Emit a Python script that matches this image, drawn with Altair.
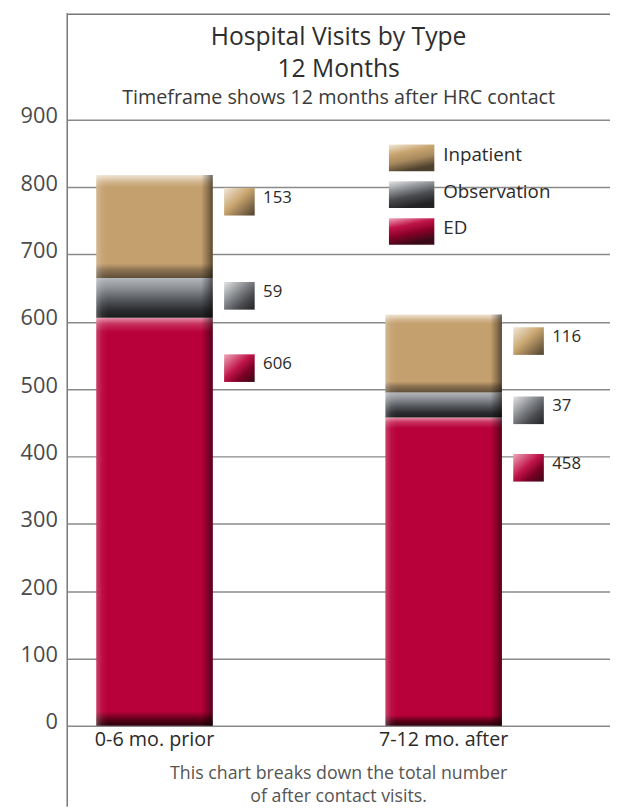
import altair as alt
import pandas as pd

# ---------------- data ----------------
periods = ["0-6 mo. prior", "7-12 mo. after"]
types = ["ED", "Observation", "Inpatient"]
ed = [606, 458]
observation = [59, 37]
inpatient = [153, 116]
y_ticks = [0, 100, 200, 300, 400, 500, 600, 700, 800, 900]
title_lines = ["Hospital Visits by Type", "12 Months"]
subtitle = "Timeframe shows 12 months after HRC contact"
caption = ["This chart breaks down the total number", "of after contact visits."]
legend_order = ["Inpatient", "Observation", "ED"]

rows = []
for i, p in enumerate(periods):
    for o, (t, vals) in enumerate(zip(types, [ed, observation, inpatient])):
        rows.append({"period": p, "type": t, "value": vals[i], "order": o})
df = pd.DataFrame(rows)

FONT = "Open Sans"
W, H = 550, 804

# ---------------- styles ----------------
def grad(stops, x2=0, y2=1):
    return alt.Gradient(gradient="linear", x1=0, y1=0, x2=x2, y2=y2,
                        stops=[alt.GradientStop(offset=o, color=c) for o, c in stops])

bar_grad = {
    "Inpatient": grad([(0, "#efe4d4"), (0.07, "#d2b48c"), (0.12, "#c4a06e"),
                       (0.86, "#c4a06e"), (0.92, "#8c7252"), (1, "#5e4d38")]),
    "Observation": grad([(0, "#b4b7bb"), (0.25, "#8d9095"), (0.55, "#55585c"),
                         (0.8, "#2c2d30"), (1, "#1c1c1e")]),
    "ED": grad([(0, "#e690aa"), (0.015, "#c8325f"), (0.035, "#b8003a"),
                (0.965, "#b8003a"), (0.985, "#5a0018"), (1, "#2a000a")]),
}
sq_grad = {
    "Inpatient": grad([(0, "#f2e8da"), (0.45, "#c9a670"), (0.6, "#a88a5e"), (1, "#4e402e")], 1, 1),
    "Observation": grad([(0, "#e4e5e6"), (0.45, "#7c7f83"), (0.7, "#4a4b4e"), (1, "#222224")], 1, 1),
    "ED": grad([(0, "#f0a8bc"), (0.45, "#c0144a"), (0.7, "#7a0024"), (1, "#3a0a18")], 1, 1),
}
leg_grad = {
    "Inpatient": grad([(0, "#f2e8da"), (0.35, "#c9a670"), (0.65, "#a88a5e"), (1, "#4e402e")], 0.35, 1),
    "Observation": grad([(0, "#e4e5e6"), (0.35, "#8c8f93"), (0.65, "#4a4b4e"), (1, "#222224")], 0.35, 1),
    "ED": grad([(0, "#f0a8bc"), (0.35, "#c0144a"), (0.65, "#8a0028"), (1, "#3a0a18")], 0.35, 1),
}
bevel = alt.Gradient(gradient="linear", x1=0, y1=0, x2=1, y2=0, stops=[
    alt.GradientStop(offset=0, color="rgba(255,255,255,0.25)"),
    alt.GradientStop(offset=0.05, color="rgba(255,255,255,0.06)"),
    alt.GradientStop(offset=0.1, color="rgba(255,255,255,0)"),
    alt.GradientStop(offset=0.9, color="rgba(0,0,0,0)"),
    alt.GradientStop(offset=0.96, color="rgba(0,0,0,0.3)"),
    alt.GradientStop(offset=1, color="rgba(0,0,0,0.55)"),
])

sq_offset = {"Inpatient": 27, "Observation": 18, "ED": 51}
SQ_PATH = "M-1,-0.9032L1,-0.9032L1,0.9032L-1,0.9032Z"
LEG_PATH = "M-1,-0.587L1,-0.587L1,0.587L-1,0.587Z"

# ---------------- scales / encodings ----------------
x_enc = alt.X("period:N", sort=periods, title=None,
              scale=alt.Scale(paddingInner=0.5973, paddingOuter=0.2372, align=0.212),
              axis=alt.Axis(orient="bottom", offset=-82, domain=False, ticks=False,
                            labelFontSize=20, labelFont=FONT, labelColor="#2a2a2a",
                            labelPadding=4, labelAngle=0))
y_scale = alt.Scale(domain=[-120.2, 1058.3], nice=False, zero=False)
y_axis = alt.Axis(values=y_ticks, grid=True, gridColor="#8a8a8a", gridWidth=1.5,
                  domain=False, ticks=False, labelFontSize=22, labelFont=FONT,
                  labelColor="#4a4a4a", labelPadding=10, labelOffset=-4)

base = alt.Chart(df).transform_stack(
    stack="value", groupby=["period"], as_=["y0", "y1"],
    sort=[alt.SortField("order", order="ascending")])

layers = []
for t in types:
    layers.append(base.transform_filter(alt.datum.type == t).mark_bar(
        fill=bar_grad[t], strokeWidth=0).encode(
        x=x_enc, y=alt.Y("y0:Q", scale=y_scale, axis=y_axis, title=None), y2="y1:Q"))
layers.append(base.mark_bar(fill=bevel, strokeWidth=0).encode(
    x=x_enc, y=alt.Y("y0:Q", scale=y_scale, axis=y_axis, title=None), y2="y1:Q"))

for t in types:
    sub = base.transform_filter(alt.datum.type == t)
    layers.append(sub.mark_point(shape=SQ_PATH, size=961, filled=True, fill=sq_grad[t],
                                 opacity=1, strokeWidth=0, xOffset=86,
                                 yOffset=sq_offset[t]).encode(
        x=x_enc, y=alt.Y("y1:Q", scale=y_scale, axis=y_axis, title=None)))
    layers.append(sub.mark_text(align="left", baseline="middle", dx=110,
                                dy=sq_offset[t] - 4, fontSize=17, font=FONT,
                                color="#2a2a2a").encode(
        x=x_enc, y=alt.Y("y1:Q", scale=y_scale, axis=y_axis, title=None),
        text="value:Q"))

# legend
leg_df = pd.DataFrame({"type": legend_order})
for i, t in enumerate(legend_order):
    yc = 146.5 + i * 37.3
    sub = alt.Chart(leg_df).transform_filter(alt.datum.type == t)
    layers.append(sub.mark_point(shape=LEG_PATH, size=2116, filled=True, fill=leg_grad[t],
                                 opacity=1, strokeWidth=0).encode(
        x=alt.value(349), y=alt.value(yc)))
    layers.append(sub.mark_text(align="left", baseline="middle", fontSize=19, font=FONT,
                                color="#2a2a2a").encode(
        x=alt.value(381), y=alt.value(yc - 3), text="type:N"))

# frame lines
one = pd.DataFrame({"a": [0]})
layers.append(alt.Chart(one).mark_rule(color="#777", strokeWidth=1.5).encode(
    x=alt.value(0), y=alt.value(0), y2=alt.value(H)))
layers.append(alt.Chart(one).mark_rule(color="#777", strokeWidth=1.5).encode(
    x=alt.value(0), x2=alt.value(W), y=alt.value(1)))

# titles
txt_df = pd.DataFrame({"line": title_lines})
for i, line in enumerate(title_lines):
    layers.append(alt.Chart(txt_df).transform_filter(alt.datum.line == line).mark_text(
        align="center", baseline="alphabetic", fontSize=25, font=FONT, color="#2e2e2e").encode(
        x=alt.value(275), y=alt.value(32 + i * 33), text="line:N"))
sub_df = pd.DataFrame({"line": [subtitle]})
layers.append(alt.Chart(sub_df).mark_text(
    align="center", baseline="alphabetic", fontSize=20, font=FONT, color="#3a3a3a").encode(
    x=alt.value(275), y=alt.value(92), text="line:N"))
cap_df = pd.DataFrame({"line": caption})
for i, line in enumerate(caption):
    layers.append(alt.Chart(cap_df).transform_filter(alt.datum.line == line).mark_text(
        align="center", baseline="alphabetic", fontSize=18, font=FONT, color="#555").encode(
        x=alt.value(275), y=alt.value(776 + i * 23), text="line:N"))

chart = alt.layer(*layers).properties(
    width=W, height=H,
    autosize=alt.AutoSizeParams(type="none"),
    padding={"left": 60, "top": 0, "right": 0, "bottom": 0},
    background="white",
).configure_view(stroke=None)

chart.save("out.html", embed_options={"renderer": "svg", "actions": False})
